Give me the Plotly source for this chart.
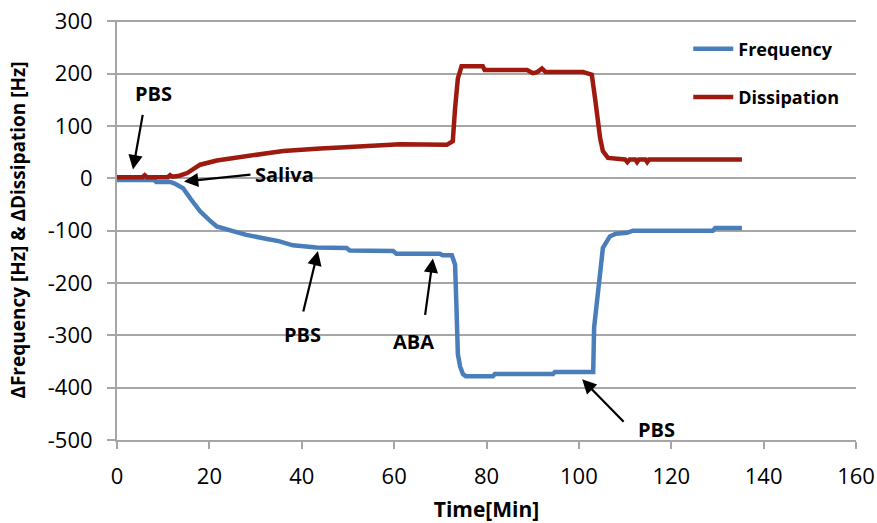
import plotly.graph_objects as go

# ---- data ----
freq_t = [0, 8.0, 8.5, 11.5, 12.5, 14.3, 16, 18.0, 20, 21.6, 25.1, 28, 32.5, 35, 38.1, 43.2,
          49.7, 50.4, 59.8, 60.5, 69.9, 70.5, 72.5, 73.2, 73.5, 73.8, 74.3, 74.9, 75.5, 81.4,
          81.8, 94.4, 94.8, 103.1, 103.3, 104.2, 104.6, 105.2, 106.7, 108, 110.4, 111.7, 129,
          129.5, 135.3]
freq_v = [-3, -3, -7, -7, -10, -19, -40, -63, -80, -92, -101, -108, -116, -120, -128, -132,
          -133, -138, -139, -144, -144, -147, -147, -165, -247, -336, -360, -374, -378, -378,
          -374, -374, -370, -370, -285, -215, -171, -133, -111, -106, -104, -100, -100,
          -95, -95]

diss_t = [0, 5.5, 6, 6.5, 11, 11.5, 12, 13.5, 15.2, 18.0, 21.6, 25.1, 28, 32.5, 36, 39.6, 44,
          48.3, 55, 61.3, 71.4, 72.7, 73.2, 73.8, 74.6, 79.2, 79.6, 88.8, 90, 91, 92, 92.8,
          100.9, 102.8, 103.5, 104.1, 104.6, 105.2, 106.3, 110, 110.5, 111, 112.2, 112.6, 113,
          114.4, 114.8, 115.2, 135.3]
diss_v = [2, 2, 6, 2, 2, 6, 3, 5, 10, 26, 34, 39, 43, 48, 52, 55, 57, 59, 62, 65, 64, 71, 134,
          191, 214, 214, 207, 207, 201, 203, 210, 203, 203, 198, 153, 109, 77, 52, 39, 36, 31,
          36, 36, 31, 36, 36, 31, 36, 36]

x_ticks = [0, 20, 40, 60, 80, 100, 120, 140, 160]
y_ticks = [300, 200, 100, 0, -100, -200, -300, -400, -500]
y_tick_text = ["300", "200", "100", "0", "-100", "-200", "-300", "-400", "-500"]

# annotations: label, tip x, tip y, arrow tail offset (px), text x, text y
notes = [
    ("PBS", 3.46, 17, 10, -56, 7.8, 162),
    ("Saliva", 14.5, -6, 68, -7, 36.2, 8),
    ("PBS", 43.5, -139, -15, 62, 40.1, -298),
    ("ABA", 68.4, -153, -8, 58, 64.1, -311),
    ("PBS", 100.7, -384, 43, 44, 116.9, -479),
]

BLUE = "#4A7EBB"
RED = "#9E1A0E"
GRID = "#A6A6A6"
FONT = "Open Sans"

fig = go.Figure()
fig.add_trace(go.Scatter(x=freq_t, y=freq_v, mode="lines", name="<b>Frequency</b>",
                         legendgroup="f", line=dict(color=BLUE, width=4.5)))
fig.add_trace(go.Scatter(x=diss_t, y=diss_v, mode="lines", name="<b>Dissipation</b>",
                         legendgroup="d", line=dict(color=RED, width=4.5)))

for label, tx, ty, ax, ay, lx, ly in notes:
    fig.add_annotation(x=tx, y=ty, ax=ax, ay=ay, text="", showarrow=True,
                       arrowhead=2, arrowsize=1.3, arrowwidth=2.2, arrowcolor="black",
                       standoff=0)
    fig.add_annotation(x=lx, y=ly, text="<b>%s</b>" % label, showarrow=False,
                       font=dict(family=FONT, size=20, color="black"))

fig.update_layout(
    width=877, height=523,
    margin=dict(l=117, r=21, t=20, b=83),
    paper_bgcolor="white", plot_bgcolor="white",
    font=dict(family=FONT, color="black"),
    legend=dict(x=0.773, y=0.975, xanchor="left", yanchor="top",
                bgcolor="rgba(0,0,0,0)", tracegroupgap=22,
                font=dict(family=FONT, size=18, color="black"),
                itemwidth=40),
    xaxis=dict(range=[0, 160], tickvals=x_ticks, ticks="outside", ticklen=7,
               tickcolor=GRID, tickwidth=2, showline=True, linecolor=GRID, linewidth=2,
               showgrid=False, zeroline=False, automargin=False, ticklabelstandoff=9,
               tickfont=dict(family=FONT, size=22, color="black"),
               title=dict(text="<b>Time[Min]</b>", font=dict(family=FONT, size=21),
                          standoff=18)),
    yaxis=dict(range=[-500, 302.5], tickvals=y_ticks, ticktext=y_tick_text,
               ticks="outside", ticklen=8, ticklabelstandoff=10,
               tickcolor=GRID, tickwidth=2, showline=True, linecolor=GRID, linewidth=2,
               showgrid=True, gridcolor=GRID, gridwidth=2, zeroline=False, automargin=False,
               tickfont=dict(family=FONT, size=22, color="black"),
               title=dict(text="<b>ΔFrequency [Hz] & ΔDissipation [Hz]</b>",
                          font=dict(family=FONT, size=19), standoff=17)),
)

fig.write_html("out.html", config={"displayModeBar": False},
               post_script="document.body.style.margin='0';document.body.style.overflow='hidden';")
